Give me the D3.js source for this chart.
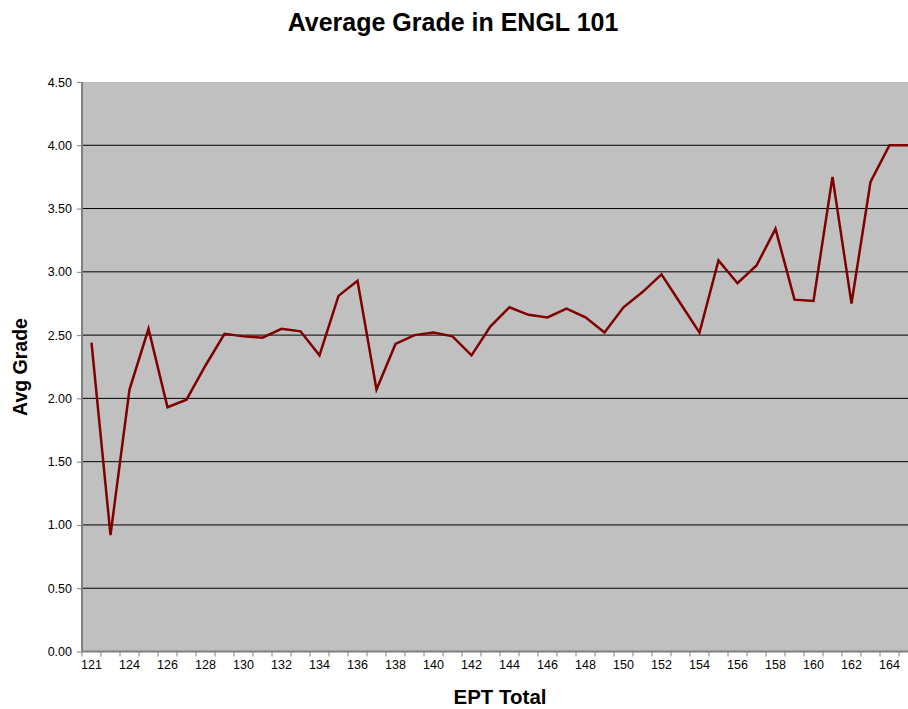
<html>
<head>
<script src="https://d3js.org/d3.v7.min.js"></script>
<style>
  body { margin: 0; background: #fff; }
  svg { font-family: "Liberation Sans", Arial, sans-serif; display: block; }
</style>
</head>
<body>
<div id="chart"></div>
<script>
// EPT total scores (122 has no entry)
var eptTotals = [121, 123, 124, 125, 126, 127, 128, 129, 130, 131, 132, 133, 134, 135,
                 136, 137, 138, 139, 140, 141, 142, 143, 144, 145, 146, 147, 148, 149,
                 150, 151, 152, 153, 154, 155, 156, 157, 158, 159, 160, 161, 162, 163,
                 164, 165];
var avgGrades = [2.44, 0.92, 2.07, 2.55, 1.93, 1.99, 2.26, 2.51, 2.49, 2.48, 2.55, 2.53, 2.34, 2.81,
                 2.93, 2.07, 2.43, 2.50, 2.52, 2.49, 2.34, 2.57, 2.72, 2.66, 2.64, 2.71, 2.64, 2.52,
                 2.72, 2.84, 2.98, 2.75, 2.52, 3.09, 2.91, 3.05, 3.34, 2.78, 2.77, 3.75, 2.75, 3.71,
                 4.00, 4.00];
var yTicks = [0, 0.5, 1, 1.5, 2, 2.5, 3, 3.5, 4, 4.5];

var width = 908, height = 709;
var plotL = 82, plotR = 918, plotT = 82, plotB = 651.5;

var svg = d3.select("#chart").append("svg")
    .attr("width", width)
    .attr("height", height)
    .style("overflow", "hidden");

var x = d3.scaleBand().domain(eptTotals).range([plotL, plotR]);
var y = d3.scaleLinear().domain([0, 4.5]).range([plotB, plotT]);

// plot area
svg.append("rect")
    .attr("x", plotL).attr("y", plotT)
    .attr("width", plotR - plotL).attr("height", plotB - plotT)
    .attr("fill", "#c0c0c0");

// gridlines
svg.selectAll("line.grid")
    .data(yTicks.filter(function (d) { return d > 0 && d < 4.5; }))
    .enter().append("line")
    .attr("class", "grid")
    .attr("x1", plotL).attr("x2", plotR)
    .attr("y1", function (d) { return y(d); })
    .attr("y2", function (d) { return y(d); })
    .attr("stroke", "#000").attr("stroke-width", 1);

// y axis
var yAxis = svg.append("g")
    .attr("transform", "translate(" + plotL + ",0)")
    .call(d3.axisLeft(y).tickValues(yTicks).tickFormat(d3.format(".2f")).tickSize(5).tickPadding(5));
yAxis.select(".domain").remove();
yAxis.selectAll(".tick line").attr("stroke", "#808080");
yAxis.selectAll("text").style("font-size", "12.5px").attr("fill", "#000");

// x axis labels (every other category)
var xAxis = svg.append("g")
    .attr("transform", "translate(0," + plotB + ")")
    .call(d3.axisBottom(x).tickSize(0).tickPadding(9)
      .tickFormat(function (d, i) { return i % 2 === 0 ? d : ""; }));
xAxis.select(".domain").remove();
xAxis.selectAll("text").style("font-size", "12.5px").attr("fill", "#000");

// x tick marks at band boundaries
svg.selectAll("line.xtick")
    .data(eptTotals)
    .enter().append("line")
    .attr("class", "xtick")
    .attr("x1", function (d) { return x(d); })
    .attr("x2", function (d) { return x(d); })
    .attr("y1", plotB).attr("y2", plotB + 5)
    .attr("stroke", "#808080");

// axis lines
svg.append("line")
    .attr("x1", plotL).attr("x2", plotL).attr("y1", plotT).attr("y2", plotB)
    .attr("stroke", "#808080").attr("stroke-width", 2);
svg.append("line")
    .attr("x1", plotL).attr("x2", plotR).attr("y1", plotB).attr("y2", plotB)
    .attr("stroke", "#808080").attr("stroke-width", 2);

// the series line
var line = d3.line()
    .x(function (d, i) { return x(eptTotals[i]) + x.bandwidth() / 2; })
    .y(function (d) { return y(d); });

svg.append("path")
    .datum(avgGrades)
    .attr("d", line)
    .attr("fill", "none")
    .attr("stroke", "#800000")
    .attr("stroke-width", 2.5)
    .attr("stroke-linejoin", "miter");

// titles
svg.append("text")
    .attr("x", 453).attr("y", 31)
    .attr("text-anchor", "middle")
    .style("font-size", "25px").style("font-weight", "bold")
    .text("Average Grade in ENGL 101");

svg.append("text")
    .attr("x", 500).attr("y", 704)
    .attr("text-anchor", "middle")
    .style("font-size", "20.5px").style("font-weight", "bold")
    .text("EPT Total");

svg.append("text")
    .attr("transform", "translate(27,367) rotate(-90)")
    .attr("text-anchor", "middle")
    .style("font-size", "19.5px").style("font-weight", "bold")
    .text("Avg Grade");
</script>
</body>
</html>
